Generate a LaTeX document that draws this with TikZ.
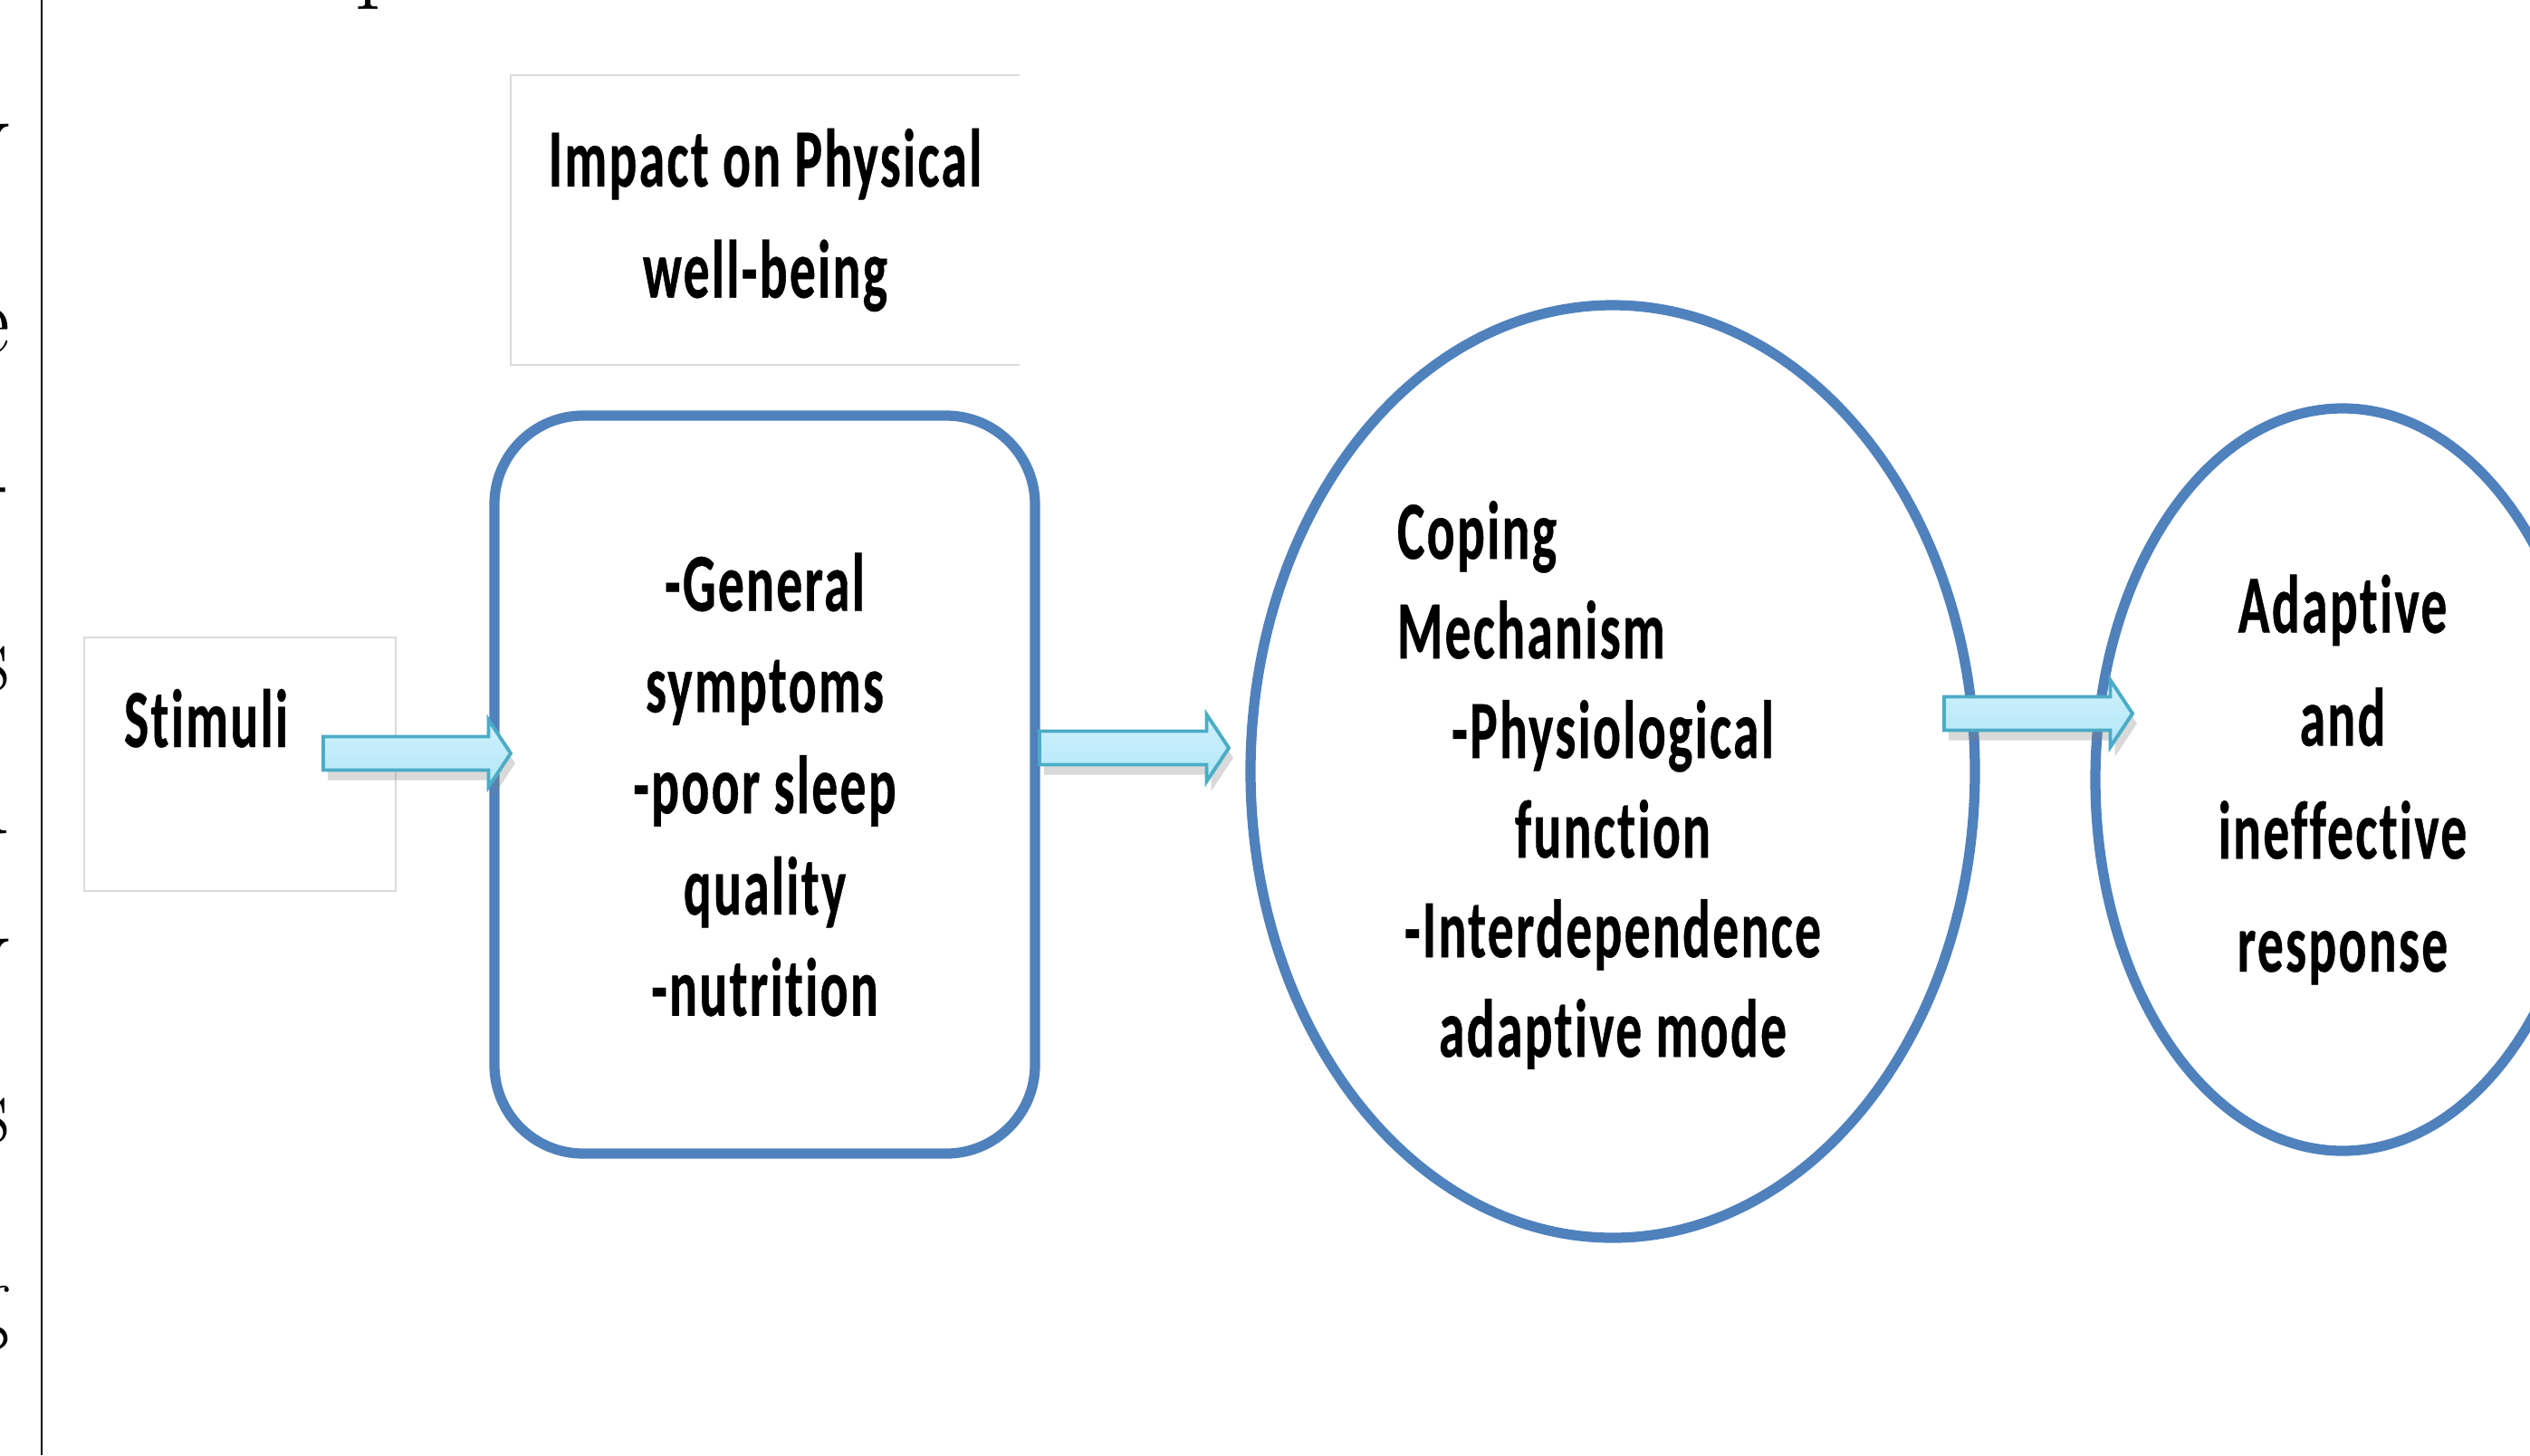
\documentclass[tikz,border=0pt]{standalone}
\usepackage{fontspec}
\usepackage{tikz}
\usetikzlibrary{positioning,calc,shapes.geometric,shadows}
\newfontfamily\calibrifont{Carlito}[FakeStretch=0.63,LetterSpace=2.5,RawFeature={-liga;-clig;-dlig;-calt},BoldFeatures={FakeBold=0.4}]
\definecolor{royblue}{HTML}{4F81BD}
\definecolor{arrowedge}{HTML}{4BACC6}
\definecolor{arrowtop}{HTML}{D0F2FC}
\definecolor{arrowbot}{HTML}{B2E6F7}
\definecolor{framegray}{HTML}{DADADA}
\tikzset{
  txt/.style={font=\calibrifont\bfseries\fontsize{26}{31.8}\selectfont,align=center,inner sep=0pt,outer sep=0pt},
  serifch/.style={font=\fontsize{32}{38}\selectfont,anchor=base east,inner sep=0pt},
  plainbox/.style={rectangle,draw=framegray,line width=0.5pt,outer sep=0pt},
  roundbox/.style={rectangle,draw=royblue,line width=3.2pt,rounded corners=0.98cm,outer sep=0pt,minimum width=5.97cm,minimum height=8.15cm},
  oval/.style={ellipse,draw=royblue,line width=3.2pt,outer sep=0pt,inner sep=0pt},
  fatarrow/.style={draw=arrowedge,line width=1.1pt,top color=arrowtop,bottom color=arrowbot,
    drop shadow={shadow xshift=0.5mm,shadow yshift=-1.1mm,opacity=0.3},
    to path={let \p1=(\tikztostart), \p2=(\tikztotarget) in
      (\x1,\y1+1.85mm) -- (\x2-2.45mm,\y1+1.85mm) -- (\x2-2.45mm,\y1+3.7mm) -- (\x2,\y1)
      -- (\x2-2.45mm,\y1-3.7mm) -- (\x2-2.45mm,\y1-1.85mm) -- (\x1,\y1-1.85mm) -- cycle}}
}

\begin{document}
\begin{tikzpicture}
	\useasboundingbox (0,0) rectangle (27.94,-16.07);
	\clip (0,0) rectangle (27.94,-16.07);

	% page margin left of the figure
	\draw[line width=0.6pt] (0.46,0) -- (0.46,-16.07);
	\begin{scope}
		\clip (0,0) rectangle (0.14,-16.07);
		\foreach \ch/\yy [count=\i] in {y/1.85,e/3.90,-/5.65,s/7.63,d/9.20,y/10.85,s/12.62,g/14.70}
			\node[serifch] (edge\i) at (0.12,-\yy) {\ch};
	\end{scope}
	\node[serifch,anchor=base west] (topch) at (3.92,0.12) {p};

	\node[plainbox,minimum width=3.44cm,minimum height=2.80cm] (stimuli) at (2.65,-8.44) {};
	\node[txt,anchor=base west] (stimulitext) at (1.37,-8.25) {Stimuli};

	\node[roundbox,txt,draw=royblue,line width=3.2pt] (symptoms) at (8.445,-8.665)
		{-General\\symptoms\\-poor sleep\\quality\\-nutrition};

	\node[txt,font=\calibrifont\bfseries\fontsize{26}{34.9}\selectfont,minimum width=5.62cm,minimum height=3.20cm] (impact) at (8.45,-2.43)
		{Impact on Physical\\well-being};
	\draw[framegray,line width=0.5pt] (impact.north east) -- (impact.north west) -- (impact.south west) -- (impact.south east);

	\node[oval,minimum width=8.0cm,minimum height=10.3cm] (coping) at (17.81,-8.52) {};
	\begin{scope}
		\clip (13.5,-4) rectangle (22,-11.80);
		\node[txt,font=\calibrifont\bfseries\fontsize{26}{31.3}\selectfont,anchor=north] (copingtext) at (17.81,-5.53)
			{\makebox[4.76cm][l]{Coping}\\\makebox[4.76cm][l]{Mechanism}\\-Physiological\\function\\-Interdependence\\adaptive mode};
	\end{scope}

	\node[oval,txt,draw=royblue,line width=3.2pt,minimum width=5.46cm,minimum height=8.20cm,font=\calibrifont\bfseries\fontsize{26}{35.5}\selectfont] (adaptive) at (25.87,-8.61)
		{Adaptive\\and\\ineffective\\response};

	\draw[fatarrow] ([shift={(-8mm,1.2mm)}]stimuli.east) to ([xshift=1.8mm]symptoms.west);
	\draw[fatarrow] ([shift={(0.5mm,4.05mm)}]symptoms.east) to ([xshift=-2.4mm]coping.west);
	\draw[fatarrow] ([shift={(-3.4mm,6.4mm)}]coping.east) to ([xshift=4.1mm]adaptive.west);
\end{tikzpicture}
\end{document}
